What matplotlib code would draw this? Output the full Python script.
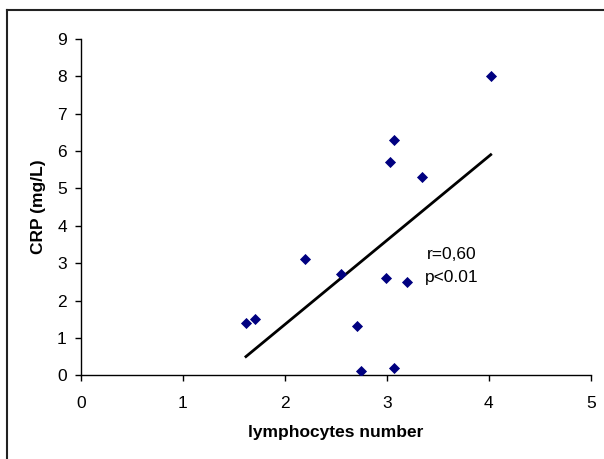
import numpy as np
import matplotlib
matplotlib.use("Agg")
import matplotlib.pyplot as plt
from matplotlib.lines import Line2D

plt.rcParams['font.family'] = ['Liberation Sans', 'DejaVu Sans']

# lymphocytes number vs CRP (mg/L)
lymph = [1.62, 1.71, 2.20, 2.55, 2.71, 2.75, 2.99, 3.03, 3.07, 3.07, 3.20, 3.35, 4.02]
crp = [1.39, 1.50, 3.11, 2.71, 1.31, 0.12, 2.60, 5.71, 6.30, 0.20, 2.49, 5.31, 8.00]

x_ticks = [0, 1, 2, 3, 4, 5]
y_ticks = [0, 1, 2, 3, 4, 5, 6, 7, 8, 9]

fig = plt.figure(figsize=(6.04, 4.59), dpi=100)
ax = fig.add_axes([0.1336, 0.1824, 0.8444, 0.7326])

ax.scatter(lymph, crp, marker='D', s=32, color='#000080', zorder=3, linewidths=0)

# linear trend line over the data range
k, b = np.polyfit(lymph, crp, 1)
xs = np.array([min(lymph), max(lymph)])
ax.plot(xs, k * xs + b, color='black', lw=2)

ax.text(3.39, 3.22, 'r=0,60', fontsize=12.5, va='center', ha='left')
ax.text(3.37, 2.63, 'p<0.01', fontsize=12.5, va='center', ha='left')

ax.set_xlim(0, 5)
ax.set_ylim(0, 9)
ax.set_xticks(x_ticks)
ax.set_yticks(y_ticks)
ax.tick_params(direction='out', length=4, width=1, labelsize=12.5, pad=6)
ax.tick_params(axis='x', pad=11)
for s in ['top', 'right']:
    ax.spines[s].set_visible(False)
for s in ['left', 'bottom']:
    ax.spines[s].set_linewidth(1)

ax.set_xlabel('lymphocytes number', fontsize=12.5, fontweight='bold', labelpad=10)
ax.set_ylabel('CRP (mg/L)', fontsize=12.5, fontweight='bold', labelpad=8)

# chart area border (only top and left visible)
fig.add_artist(Line2D([7/604, 1], [1 - 10/459, 1 - 10/459], color='#222222', lw=1.5))
fig.add_artist(Line2D([7/604, 7/604], [0, 1 - 10/459], color='#222222', lw=1.5))

fig.savefig('out.png', dpi=100)
